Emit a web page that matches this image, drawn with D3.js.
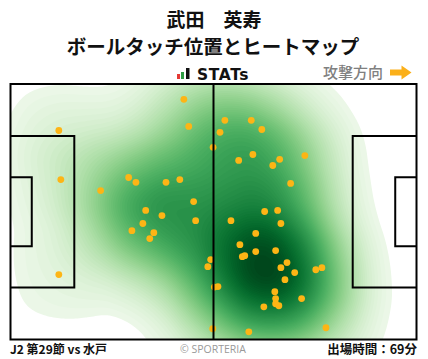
<!DOCTYPE html>
<html><head><meta charset="utf-8">
<script src="https://cdn.jsdelivr.net/npm/d3@7"></script>
<style>
html,body{margin:0;padding:0;background:#fff;}
svg{display:block;}
</style></head>
<body>
<svg id="c" width="428" height="359"></svg>
<script>
// ---- data (pitch coordinates 0-100, attacking left -> right) ----
const title1 = "武田　英寿";
const title2 = "ボールタッチ位置とヒートマップ";
const matchLabel = "J2 第29節 vs 水戸";
const minutesLabel = "出場時間：69分";
const touchX = [42.7,43.9,11.9,49.9,12.4,29.1,30.9,22.2,38.3,41.7,45.1,33.3,52.8,59.3,51.6,61.9,59.7,56.2,66.3,64.6,72.5,69.0,37.3,45.6,32.6,29.9,35.3,34.3,49.3,48.6,11.9,50.2,49.8,62.6,65.8,54.3,66.6,60.4,56.5,57.1,57.7,60.4,65.3,68.1,66.6,70.0,67.6,75.2,76.7,51.1,65.1,65.3,65.3,66.1,62.4,71.7,58.7,77.7];
const touchY = [6.0,16.6,18.2,24.8,37.4,36.6,38.5,41.7,38.5,37.4,46.0,49.5,14.2,14.2,18.9,17.8,27.6,29.9,29.5,31.9,28.0,38.9,51.5,53.5,54.6,57.4,58.2,60.5,68.7,71.5,74.6,79.5,95.8,49.9,49.5,53.5,54.6,58.5,62.9,67.6,67.2,65.6,65.2,69.9,71.9,73.8,76.6,72.7,71.9,79.3,81.3,84.0,86.0,86.8,87.2,84.0,97.0,95.4];

const svg = d3.select("#c");
const W = 428, H = 359;
const x = d3.scaleLinear().domain([0,100]).range([10.5,416.5]);
const y = d3.scaleLinear().domain([0,100]).range([84,339.5]);
const mx = m => m/105*100, my = m => m/68*100;

// ---- titles ----
const tf = "'Noto Sans CJK JP','Noto Sans',sans-serif";
svg.append("text").attr("x",214).attr("y",27).attr("text-anchor","middle")
  .attr("font-family",tf).attr("font-weight","bold").attr("font-size",19).attr("fill","#111").text(title1);
svg.append("text").attr("x",213).attr("y",54).attr("text-anchor","middle")
  .attr("font-family",tf).attr("font-weight","bold").attr("font-size",19.5).attr("fill","#111").text(title2);

// STATs logo
const logo = svg.append("g");
logo.append("rect").attr("x",177).attr("y",74).attr("width",3).attr("height",5).attr("fill","#e53935");
logo.append("rect").attr("x",181).attr("y",72).attr("width",3).attr("height",7).attr("fill","#2e9e44");
logo.append("rect").attr("x",186).attr("y",68).attr("width",3.5).attr("height",11).attr("fill","#111");
logo.append("text").attr("x",197).attr("y",79.5).attr("font-family","'DejaVu Sans',sans-serif")
  .attr("font-weight","bold").attr("font-size",15.5).attr("letter-spacing",0.6).attr("fill","#111").text("STATs");

// attack direction
svg.append("text").attr("x",323).attr("y",78).attr("font-family",tf).attr("font-size",15)
  .attr("font-weight",500).attr("fill","#808080").text("攻撃方向");
svg.append("path").attr("d","M390,69.5H401.5V65.5L411.5,72.5L401.5,79.5V75.5H390Z").attr("fill","#fbb01a");

// ---- heatmap ----
const clip = svg.append("clipPath").attr("id","pc");
clip.append("rect").attr("x",x(0)).attr("y",y(0)).attr("width",x(100)-x(0)).attr("height",y(100)-y(0));
const pts = touchX.map((v,i)=>[x(v), y(touchY[i])]);
const dens = d3.contourDensity().x(d=>d[0]).y(d=>d[1]).size([W,H]).cellSize(2).bandwidth(37);
const cf = dens.contours(pts);
const mx0 = cf.max;
const nT = 70;
const color = d3.scaleSequentialPow(d3.interpolateGreens).exponent(0.75).domain([0, mx0]);
const thr = d3.range(nT).map(i => mx0*(0.034 + 0.966*i/nT));
svg.append("g").attr("clip-path","url(#pc)").selectAll("path").data(thr).join("path")
  .attr("d", t => d3.geoPath()(cf(t))).attr("fill", t => color(t)).attr("stroke","none");

// ---- touches ----
svg.append("g").selectAll("circle").data(pts).join("circle")
  .attr("cx",d=>d[0]).attr("cy",d=>d[1]).attr("r",3.4).attr("fill","#fdb515");

// ---- pitch lines ----
const g = svg.append("g").attr("fill","none").attr("stroke","#000").attr("stroke-width",2);
g.append("rect").attr("x",x(0)).attr("y",y(0)).attr("width",x(100)-x(0)).attr("height",y(100)-y(0));
g.append("line").attr("x1",x(50)).attr("x2",x(50)).attr("y1",y(0)).attr("y2",y(100));
const pbT = my(34-20.16), pbB = my(34+20.16), gaT = my(34-9.16), gaB = my(34+9.16);
g.append("path").attr("d",`M${x(0)},${y(pbT)}H${x(mx(16.5))}V${y(pbB)}H${x(0)}`);
g.append("path").attr("d",`M${x(0)},${y(gaT)}H${x(mx(5.5))}V${y(gaB)}H${x(0)}`);
g.append("path").attr("d",`M${x(100)},${y(pbT)}H${x(100-mx(16.5))}V${y(pbB)}H${x(100)}`);
g.append("path").attr("d",`M${x(100)},${y(gaT)}H${x(100-mx(5.5))}V${y(gaB)}H${x(100)}`);

// ---- footer ----
svg.append("text").attr("x",10).attr("y",354).attr("font-family",tf).attr("font-weight","bold")
  .attr("font-size",12).attr("fill","#111").text(matchLabel);
svg.append("text").attr("x",213).attr("y",353).attr("text-anchor","middle").attr("font-family","'Open Sans','Noto Sans',sans-serif")
  .attr("font-size",10.5).attr("fill","#999").text("© SPORTERIA");
svg.append("text").attr("x",417).attr("y",354).attr("text-anchor","end").attr("font-family",tf).attr("font-weight","bold")
  .attr("font-size",12.5).attr("fill","#111").text(minutesLabel);
</script>
</body></html>
